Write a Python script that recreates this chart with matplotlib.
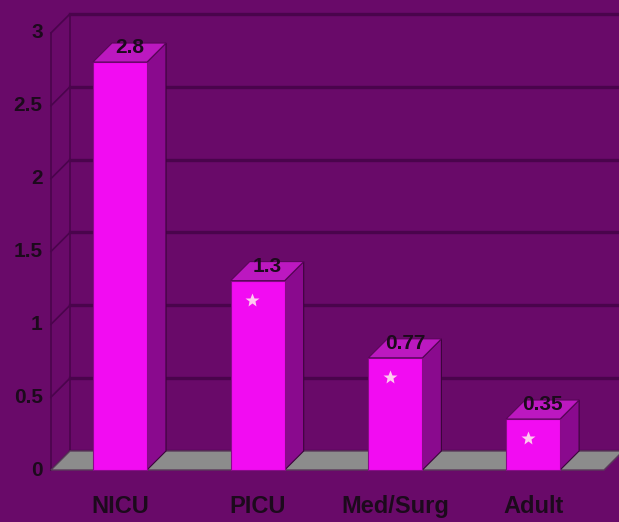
import matplotlib
matplotlib.use("Agg")
import matplotlib.pyplot as plt
from matplotlib.patches import Polygon

# Data
categories = ["NICU", "PICU", "Med/Surg", "Adult"]
values = [2.8, 1.3, 0.77, 0.35]
value_labels = ["2.8", "1.3", "0.77", "0.35"]
starred = [False, True, True, True]
yticks = [0, 0.5, 1, 1.5, 2, 2.5, 3]
ytick_labels = ["0", "0.5", "1", "1.5", "2", "2.5", "3"]

W, H = 619, 522
fig = plt.figure(figsize=(W / 100, H / 100), dpi=100)
bg = "#690a69"
fig.patch.set_facecolor(bg)
ax = fig.add_axes([0, 0, 1, 1])
ax.set_facecolor(bg)
ax.axis("off")

# pixel layout: category i center at x0 + i*step ; value v at y_front0 - v*scale (from top)
x0, step = 120.0, 137.7
y_front0, scale = 470.0, 145.7
ax.set_xlim(-x0 / step, (W - x0) / step)
ax.set_ylim(-(H - y_front0) / scale, y_front0 / scale)

# depth offsets in data units
ddx = 19.0 / step
ddy = 19.0 / scale
bw = 54.0 / step

font = ["Liberation Sans Narrow", "Liberation Sans", "DejaVu Sans"]
txt_color = "#1c0a1c"
grid_color = "#4a044c"

x_axis = (51.0 - x0) / step
x_right = (W + 5 - x0) / step
top = 3.0

# left wall edges and back wall gridlines
ax.plot([x_axis, x_axis], [0, top], color=grid_color, lw=1.2, zorder=1)
ax.plot([x_axis + ddx, x_axis + ddx], [ddy, top + ddy], color=grid_color, lw=1.2, zorder=1)
for t, lab in zip(yticks, ytick_labels):
    ax.plot([x_axis, x_axis + ddx], [t, t + ddy], color=grid_color, lw=1.2, zorder=1)
    ax.plot([x_axis + ddx, x_right], [t + ddy, t + ddy], color=grid_color, lw=2.4, zorder=1)
    ax.text(x_axis - 0.06, t, lab, ha="right", va="center",
            fontsize=15, fontweight="bold", family=font, color=txt_color)

# floor
floor_right = (604.0 - x0) / step
floor = Polygon([[x_axis, 0], [floor_right, 0], [floor_right + ddx, ddy], [x_axis + ddx, ddy]],
                closed=True, facecolor="#8c8c8c", edgecolor="#5a3a5a", lw=1.0, zorder=2)
ax.add_patch(floor)

# bars: front face via ax.bar, plus side and top faces
xs = list(range(len(categories)))
ax.bar(xs, values, width=bw, color="#f20cf2", edgecolor="#8a0a8a", linewidth=0.8, zorder=4)
for i, v in enumerate(values):
    l, r = i - bw / 2, i + bw / 2
    side = Polygon([[r, 0], [r + ddx, ddy], [r + ddx, v + ddy], [r, v]], closed=True,
                   facecolor="#8a0a8e", edgecolor="#3a043a", lw=0.8, zorder=3)
    topf = Polygon([[l, v], [r, v], [r + ddx, v + ddy], [l + ddx, v + ddy]], closed=True,
                   facecolor="#bc18c0", edgecolor="#5a065a", lw=0.8, zorder=5)
    ax.add_patch(side)
    ax.add_patch(topf)
    ax.text(i + ddx / 2, v + ddy * 0.75, value_labels[i], ha="center", va="center",
            fontsize=15, fontweight="bold", family=font, color=txt_color, zorder=6)
    if starred[i]:
        ax.plot(i - 0.04, v - 0.13, marker="*", ms=10, color="#ffc8f0", mec="none", zorder=6)
    ax.text(i, -0.17, categories[i], ha="center", va="top", fontsize=17,
            fontweight="bold", family=font, color=txt_color)

fig.savefig("out.png", dpi=100, facecolor=bg)
